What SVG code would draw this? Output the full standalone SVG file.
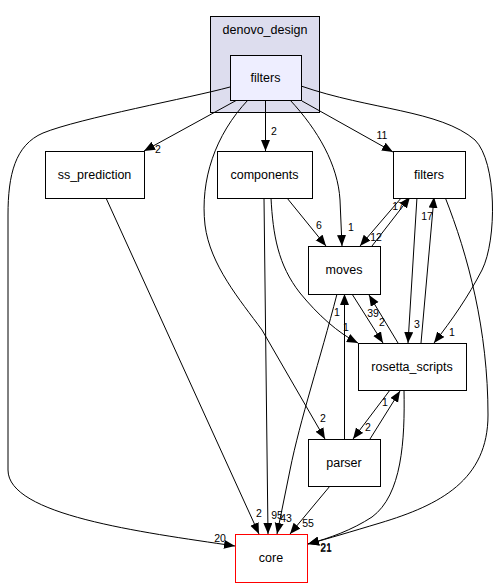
<svg xmlns="http://www.w3.org/2000/svg" width="499" height="588" viewBox="0 0 499 588">
<style>
.n{fill:#fff;stroke:#000;stroke-width:1}
.t{font-family:"Liberation Sans",Arial,sans-serif;font-size:12.5px;text-anchor:middle;fill:#000}
.l{font-family:"Liberation Sans",Arial,sans-serif;font-size:10.5px;text-anchor:middle;fill:#000}
.e{fill:none;stroke:#000;stroke-width:1;marker-end:url(#a)}
</style>
<defs>
<marker id="a" markerUnits="userSpaceOnUse" markerWidth="12" markerHeight="10" refX="11" refY="4.5" orient="auto">
<path d="M0,0 L11,4.5 L0,9 z" fill="#000"/>
</marker>
</defs>
<rect width="499" height="588" fill="#fff"/>
<g id="cluster_denovo_design">
<rect x="210.5" y="16.5" width="109" height="96" fill="#ddddee" stroke="#000"/>
<text class="t" x="265" y="34">denovo_design</text>
</g>
<g id="connectors">
<path class="e" d="M230,87 C190,98 80,118 43,133 C15,145 8,175 8,215 L8,470 C8,515 140,532 235,546"/>
<text class="l" x="220" y="542">20</text>
<path class="e" d="M237,100 L144,151"/>
<text class="l" x="158" y="153">2</text>
<path class="e" d="M265.5,100 L265.5,151"/>
<text class="l" x="274" y="135">2</text>
<path class="e" d="M290,100 C318,130 338,165 340,200 L342,246"/>
<text class="l" x="351" y="231">1</text>
<path class="e" d="M302,101 L393,152"/>
<text class="l" x="382" y="139">11</text>
<path class="e" d="M301,86 C370,110 440,110 475,140 C497,162 497,240 482,270 C468,297 452,320 434,343"/>
<text class="l" x="452" y="336">1</text>
<path class="e" d="M248,100 C215,135 200,180 205,225 C210,265 240,300 262,330 L325,439"/>
<text class="l" x="323" y="422">2</text>
<path class="e" d="M106,198 L259,534"/>
<text class="l" x="259" y="517">2</text>
<path class="e" d="M264,198 L268,534"/>
<text class="l" x="277" y="519">95</text>
<path class="e" d="M337,294 C320,360 300,420 290,470 L277,534"/>
<text class="l" x="286" y="522">43</text>
<path class="e" d="M330,486 L290,534"/>
<text class="l" x="308" y="527">55</text>
<path class="e" d="M287,198 L326,246"/>
<text class="l" x="319" y="229">6</text>
<path class="e" d="M271,198 C273,235 278,265 300,293 C318,315 338,333 358,343"/>
<text class="l" x="346" y="331">1</text>
<path class="e" d="M402,197 L360,246"/>
<text class="l" x="376" y="241">12</text>
<path class="e" d="M372,246 L410,197"/>
<text class="l" x="398" y="210">17</text>
<path class="e" d="M417,197 L408,343"/>
<text class="l" x="417" y="328">3</text>
<path class="e" d="M421,343 L434,197"/>
<text class="l" x="427" y="220">17</text>
<path class="e" d="M445,197 C468,255 488,330 488,415 C488,480 440,505 380,523 C350,532 330,538 308,544"/>
<text class="l" x="326" y="552">21</text>
<path class="e" d="M404,390 C405,440 402,495 372,517 C352,530 330,538 308,544"/>
<text class="l" x="326" y="551">21</text>
<path class="e" d="M352,294 L383,343"/>
<text class="l" x="373" y="317">39</text>
<path class="e" d="M398,343 L369,295"/>
<text class="l" x="382" y="326">2</text>
<path class="e" d="M344.5,439 L344.5,294"/>
<text class="l" x="337" y="316">1</text>
<path class="e" d="M390,390 L353,439"/>
<text class="l" x="368" y="431">2</text>
<path class="e" d="M370,439 L400,391"/>
<text class="l" x="385" y="406">1</text>
</g>
<g id="node_filters_dd">
<rect x="230.5" y="55.5" width="71" height="45" fill="#eeeeff" stroke="#000"/>
<text class="t" x="265.5" y="82">filters</text>
</g>
<g id="node_ss_prediction">
<rect class="n" x="45.5" y="151.5" width="99" height="47"/>
<text class="t" x="94.5" y="179">ss_prediction</text>
</g>
<g id="node_components">
<rect class="n" x="217.5" y="151.5" width="95" height="47"/>
<text class="t" x="264.5" y="179">components</text>
</g>
<g id="node_filters">
<rect class="n" x="393.5" y="151.5" width="72" height="47"/>
<text class="t" x="429" y="179">filters</text>
</g>
<g id="node_moves">
<rect class="n" x="308.5" y="246.5" width="72" height="48"/>
<text class="t" x="344" y="274">moves</text>
</g>
<g id="node_rosetta_scripts">
<rect class="n" x="358.5" y="343.5" width="108" height="47"/>
<text class="t" x="412" y="371">rosetta_scripts</text>
</g>
<g id="node_parser">
<rect class="n" x="308.5" y="439.5" width="72" height="47"/>
<text class="t" x="344" y="467">parser</text>
</g>
<g id="node_core">
<rect x="235.5" y="534.5" width="72" height="48" fill="#fff" stroke="#ff0000"/>
<text class="t" x="271" y="562">core</text>
</g>
</svg>
